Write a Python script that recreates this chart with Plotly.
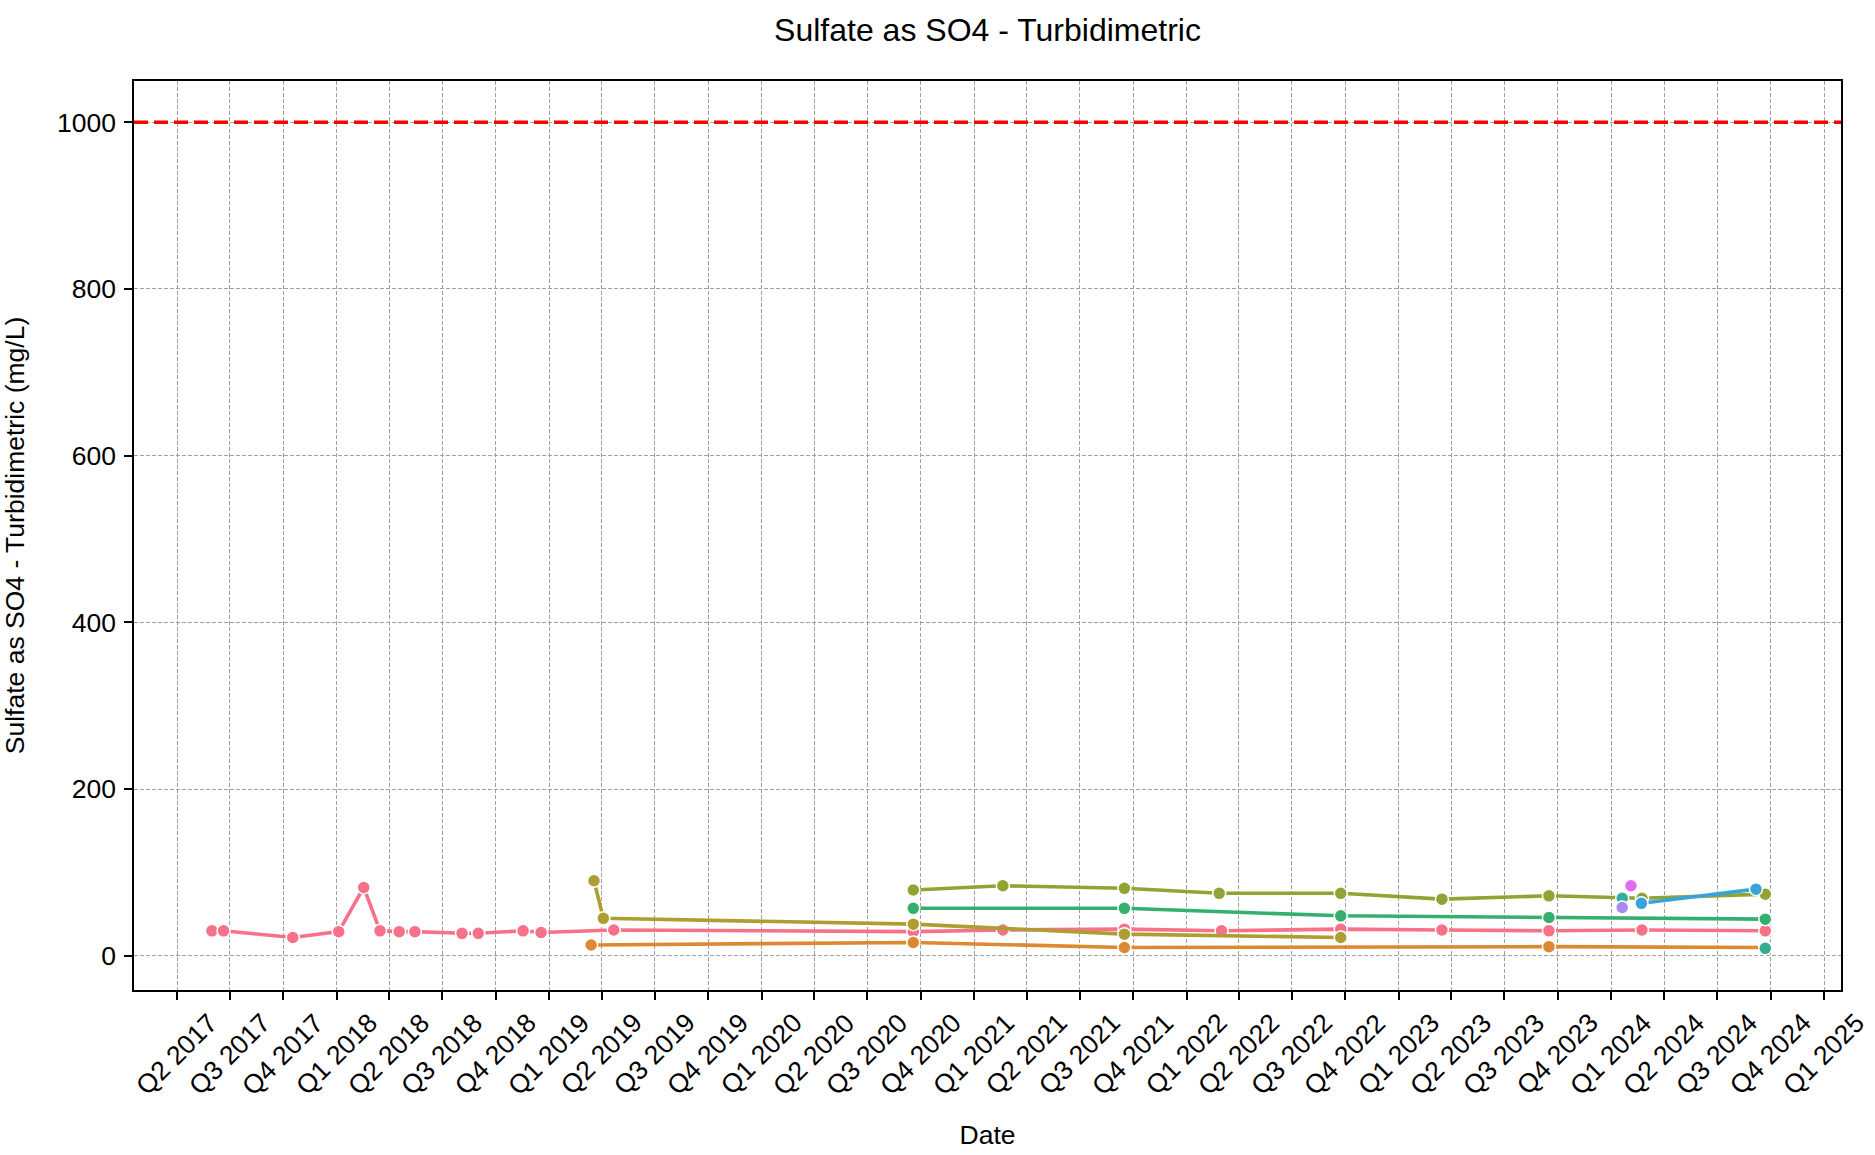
import pandas as pd
import plotly.graph_objects as go

TITLE = "Sulfate as SO4 - Turbidimetric"
Y_LABEL = "Sulfate as SO4 - Turbidimetric (mg/L)"
X_LABEL = "Date"
LIMIT = 1000
FONT = "Liberation Sans, Arial, sans-serif"

# Sulfate results per sampling location (mg/L)
mw01_dates = ["2017-05-31", "2017-06-20", "2017-10-17", "2018-01-04", "2018-02-16",
              "2018-03-16", "2018-04-18", "2018-05-15", "2018-08-04", "2018-09-01",
              "2018-11-17", "2018-12-18", "2019-04-22", "2020-09-18", "2021-02-19",
              "2021-09-16", "2022-03-02", "2022-09-23", "2023-03-16", "2023-09-16",
              "2024-02-23", "2024-09-22"]
mw01_vals = [30, 30, 22, 29, 82, 30, 29, 29, 27, 27, 30, 28, 31, 29, 31, 32, 30, 32, 31, 30, 31, 30]

mw02_dates = ["2019-03-14", "2020-09-18", "2021-09-16", "2023-09-16", "2024-09-22"]
mw02_vals = [13, 16, 10, 11, 10]

mw03_dates = ["2019-03-19", "2019-04-04", "2020-09-18", "2021-09-16", "2022-09-23"]
mw03_vals = [90, 45, 38, 26, 22]

mw04_dates = ["2020-09-18", "2021-02-19", "2021-09-16", "2022-02-26", "2022-09-23",
              "2023-03-16", "2023-09-16", "2024-02-23", "2024-09-22"]
mw04_vals = [79, 84, 81, 75, 75, 68, 72, 69, 74]

mw05_dates = ["2020-09-18", "2021-09-16", "2022-09-23", "2023-09-16", "2024-09-22"]
mw05_vals = [57, 57, 48, 46, 44]

mw06_dates = ["2024-09-22"]
mw06_vals = [9]

mw07_dates = ["2024-01-20"]
mw07_vals = [69]

mw08_dates = ["2024-02-22", "2024-09-06"]
mw08_vals = [63, 80]

mw09_dates = ["2024-01-20"]
mw09_vals = [58]

mw10_dates = ["2024-02-04"]
mw10_vals = [84]

series = [
    ("MW-01", mw01_dates, mw01_vals, "#f77189"),
    ("MW-02", mw02_dates, mw02_vals, "#dc8932"),
    ("MW-03", mw03_dates, mw03_vals, "#ae9d31"),
    ("MW-04", mw04_dates, mw04_vals, "#8fa531"),
    ("MW-05", mw05_dates, mw05_vals, "#33b06e"),
    ("MW-06", mw06_dates, mw06_vals, "#34ae8e"),
    ("MW-07", mw07_dates, mw07_vals, "#36ada4"),
    ("MW-08", mw08_dates, mw08_vals, "#3aa3dc"),
    ("MW-09", mw09_dates, mw09_vals, "#a48cf4"),
    ("MW-10", mw10_dates, mw10_vals, "#e36cf2"),
]

# Quarterly ticks along the date axis
quarter_ticks = pd.date_range("2017-04-01", "2025-01-01", freq="QS")
quarter_labels = [f"Q{d.quarter} {d.year}" for d in quarter_ticks]
y_ticks = [0, 200, 400, 600, 800, 1000]

fig = go.Figure()
for name, dates, vals, color in series:
    fig.add_trace(go.Scatter(
        x=pd.to_datetime(dates), y=vals, name=name, mode="lines+markers",
        line=dict(color=color, width=3.6),
        marker=dict(size=13, color=color, line=dict(color="white", width=1.5)),
        showlegend=False,
    ))

# Regulatory limit
fig.add_shape(type="line", xref="x domain", x0=0, x1=1, yref="y", y0=LIMIT, y1=LIMIT,
              line=dict(color="red", width=3.5, dash="14px,6px"), layer="above")

# Rotated quarter labels, centred under each tick
for d, lab in zip(quarter_ticks, quarter_labels):
    fig.add_annotation(x=d, xref="x", y=0, yref="paper", text=lab, showarrow=False,
                       textangle=-45, xanchor="center", yanchor="top", yshift=-15,
                       font=dict(family=FONT, size=26.5, color="black"))

axis_common = dict(
    showline=True, linecolor="black", linewidth=1.5, mirror=True,
    ticks="outside", ticklen=8, tickwidth=1.5, tickcolor="black",
    showgrid=True, gridcolor="#a0a0a0", gridwidth=1, griddash="4px,2px",
    zeroline=False,
)

fig.update_xaxes(type="date", range=["2017-01-17", "2025-01-30 05:00"],
                 tickvals=list(quarter_ticks), showticklabels=False,
                 title=dict(text=X_LABEL, font=dict(family=FONT, size=26.5, color="black"), standoff=127),
                 **axis_common)
fig.update_yaxes(range=[-41, 1049.5], tickvals=y_ticks,
                 tickfont=dict(family=FONT, size=26.5, color="black"), ticklabelstandoff=3,
                 title=dict(text=Y_LABEL, font=dict(family=FONT, size=26.5, color="black"), standoff=27),
                 **axis_common)

fig.update_layout(
    width=1875, height=1155,
    margin=dict(l=134, r=34, t=81, b=165, autoexpand=False),
    plot_bgcolor="white", paper_bgcolor="white",
    title=dict(text=TITLE, x=0.5, xref="paper", y=1 - 30 / 1155, yref="container",
               yanchor="middle", font=dict(family=FONT, size=32, color="black")),
)

fig.write_html("out.html")
